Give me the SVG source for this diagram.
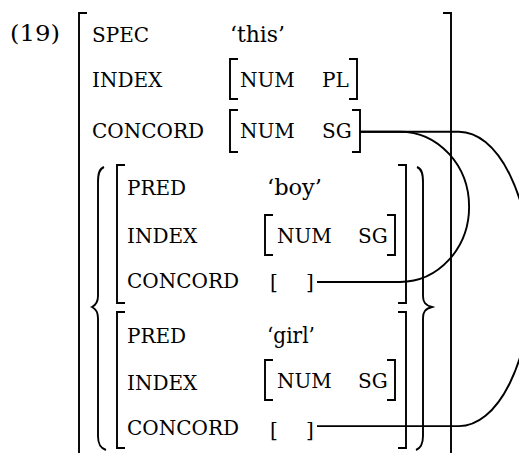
<svg xmlns="http://www.w3.org/2000/svg" width="519" height="453" viewBox="0 0 519 453">
<style>
text{font-family:"DejaVu Serif","Liberation Serif",serif;font-size:20px;fill:#000}
.v{font-size:22px}
.br{fill:none;stroke:#000;stroke-width:1.9}
.cn{fill:none;stroke:#000;stroke-width:1.9}
</style>
<rect width="519" height="453" fill="#fff"/>
<g id="example-number"><text class="v" x="10" y="41" textLength="50" lengthAdjust="spacingAndGlyphs">(19)</text></g>
<g id="avm-outer">
<path class="br" d="M87,13H79V460M443,13H451V460"/>
<text x="92" y="42">SPEC</text><text class="v" x="230" y="42" textLength="55" lengthAdjust="spacingAndGlyphs">‘this’</text>
<text x="92" y="87">INDEX</text>
<path class="br" d="M238,59H230V99H238M349,59H357V99H349"/>
<text x="240" y="87">NUM</text><text x="322" y="87">PL</text>
<text x="92" y="138">CONCORD</text>
<path class="br" d="M238,110H230V152H238M352,110H360V152H352"/>
<text x="240" y="138">NUM</text><text x="322" y="138">SG</text>
</g>
<g id="set-braces">
<path class="br" d="M104,167C99,169 98,174 98,182V296C98,302 96,305 92,307C96,309 98,312 98,318V436C98,444 100,448 106,450"/>
<path class="br" d="M417,167C422,169 423,174 423,182V296C423,302 425,305 432,307C425,309 423,312 423,318V436C423,444 421,448 416,450"/>
</g>
<g id="avm-boy">
<path class="br" d="M125,165H117V303H125M398,165H406V303H398"/>
<text x="127" y="195">PRED</text><text class="v" x="267" y="195" textLength="55" lengthAdjust="spacingAndGlyphs">‘boy’</text>
<text x="127" y="243">INDEX</text>
<path class="br" d="M273,215H265V255H273M387,215H395V255H387"/>
<text x="277" y="243">NUM</text><text x="358" y="243">SG</text>
<text x="127" y="288">CONCORD</text>
<text x="270" y="289">[</text><text x="306" y="289">]</text>
</g>
<g id="avm-girl">
<path class="br" d="M125,312H117V448H125M398,312H406V448H398"/>
<text x="127" y="343">PRED</text><text class="v" x="267" y="343" textLength="48" lengthAdjust="spacingAndGlyphs">‘girl’</text>
<text x="127" y="390">INDEX</text>
<path class="br" d="M273,360H265V400H273M387,360H395V400H387"/>
<text x="277" y="388">NUM</text><text x="358" y="388">SG</text>
<text x="127" y="435">CONCORD</text>
<text x="270" y="437">[</text><text x="306" y="437">]</text>
</g>
<g id="connectors">
<path class="cn" d="M360,131.7H400A69,75 0 0 1 400,282H317"/>
<path class="cn" d="M360,131.7H459A72,147.2 0 0 1 459,426.1H317"/>
</g>
</svg>
